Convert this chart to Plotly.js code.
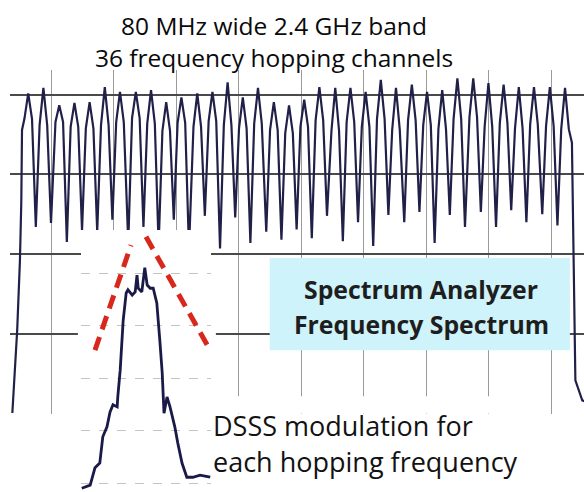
<!DOCTYPE html>
<html>
<head>
<meta charset="utf-8">
<script src="https://cdn.plot.ly/plotly-3.0.1.min.js"></script>
<style>
  html, body { margin: 0; padding: 0; background: #ffffff; }
  #chart { width: 584px; height: 492px; }
</style>
</head>
<body>
<div id="chart"></div>
<script>
// ---------- DATA ----------
// Main spectrum-analyzer sweep: 36 hopping channels across the 2.4 GHz band (MHz / dBm)
const channelFreq = [2401.1, 2403.3, 2405.6, 2407.8, 2410.0, 2412.2, 2414.4, 2416.7, 2418.9, 2421.1,
                     2423.3, 2425.6, 2427.8, 2430.0, 2432.2, 2434.4, 2436.7, 2438.9, 2441.1, 2443.3,
                     2445.6, 2447.8, 2450.0, 2452.2, 2454.4, 2456.7, 2458.9, 2461.1, 2463.3, 2465.6,
                     2467.8, 2470.0, 2472.2, 2474.4, 2476.7, 2478.9];
const channelTipDb = [-19.8, -19.1, -21.3, -21.0, -20.9, -19.0, -19.6, -19.6, -19.4, -20.9,
                      -20.3, -19.8, -19.6, -18.4, -20.3, -19.1, -20.9, -21.3, -20.6, -19.0,
                      -19.1, -19.1, -19.6, -18.1, -19.1, -18.7, -19.6, -19.4, -17.9, -17.9,
                      -18.5, -18.7, -19.0, -19.0, -19.0, -19.1];
const channelShoulderDb = [-23.0, -23.8, -23.4, -24.0, -24.2, -23.8, -23.4, -22.9, -23.6, -24.5,
                           -23.5, -24.0, -23.3, -23.8, -24.2, -23.6, -24.4, -24.8, -24.0, -23.2,
                           -24.5, -23.4, -24.0, -23.0, -24.4, -23.2, -23.8, -24.3, -23.0, -22.8,
                           -24.0, -23.5, -24.2, -23.7, -23.9, -24.3];
const dipFreq = [2402.2, 2404.4, 2406.7, 2408.9, 2411.1, 2413.3, 2415.6, 2417.8, 2420.0, 2422.2,
                 2424.4, 2426.7, 2428.9, 2431.1, 2433.3, 2435.6, 2437.8, 2440.0, 2442.2, 2444.4,
                 2446.7, 2448.9, 2451.1, 2453.3, 2455.6, 2457.8, 2460.0, 2462.2, 2464.4, 2466.7,
                 2468.9, 2471.1, 2473.3, 2475.6, 2477.8];
const dipDb = [-36.6, -36.1, -38.5, -37.0, -37.2, -35.7, -38.6, -36.6, -39.0, -35.7,
               -39.4, -35.2, -39.3, -35.4, -38.6, -37.2, -38.2, -36.9, -38.0, -35.2,
               -38.4, -36.0, -39.0, -35.1, -36.0, -34.7, -38.6, -35.1, -36.6, -34.7,
               -36.6, -34.5, -36.0, -35.0, -36.4];
// band edges of the sweep
const leftEdgeFreq = [2398.8, 2399.5, 2399.9, 2400.1, 2400.2];
const leftEdgeDb = [-60.0, -49.6, -40.8, -33.3, -24.4];
const rightEdgeFreq = [2479.9, 2480.1, 2480.4, 2481.4, 2481.7];
const rightEdgeDb = [-26.0, -38.2, -55.9, -58.4, -58.5];

// DSSS modulation of one hopping frequency (offset MHz / relative dB)
const dsssOffset = [-10.7, -9.3, -8.5, -7.7, -7.2, -6.5, -6.0, -5.5, -4.8, -4.7, -4.3, -4.0, -3.8,
                    -3.3, -3.0, -2.3, -1.8, -1.5, -1.3, -0.7, -0.2, 0.2, 0.7, 1.2, 1.8, 2.3, 2.7,
                    3.0, 3.5, 4.0, 4.8, 5.3, 6.0, 6.8, 7.8, 9.0, 10.7];
const dsssDb = [-41.0, -40.4, -37.1, -36.2, -31.2, -29.3, -26.5, -25.1, -25.5, -23.6, -18.5, -12.8, -9.0,
                -3.8, -3.2, -4.2, -3.6, -0.4, -2.9, -3.6, 1.0, -2.3, -2.9, -2.9, -5.7, -12.8, -19.0,
                -26.7, -23.6, -25.5, -29.3, -32.4, -36.2, -38.9, -38.9, -38.5, -38.9];
// red dashed envelope drawn over the DSSS shape
const envelopeOffset = [-8.5, -2.5, null, 0.0, 10.7];
const envelopeDb = [-14.7, 5.3, null, 6.9, -14.7];

// texts
const titleLines = ['80 MHz wide 2.4 GHz band', '36 frequency hopping channels'];
const boxLines = ['Spectrum Analyzer', 'Frequency Spectrum'];
const dsssLines = ['DSSS modulation for', 'each hopping frequency'];

// ---------- build the sweep polyline from the read values ----------
const sweepX = leftEdgeFreq.slice();
const sweepY = leftEdgeDb.slice();
const SHOULDER = 0.55; // MHz half-width of each channel's top
for (let k = 0; k < channelFreq.length; k++) {
  sweepX.push(channelFreq[k] - SHOULDER, channelFreq[k], channelFreq[k] + SHOULDER);
  sweepY.push(channelShoulderDb[k], channelTipDb[k], channelShoulderDb[k]);
  if (k < dipFreq.length) { sweepX.push(dipFreq[k]); sweepY.push(dipDb[k]); }
}
rightEdgeFreq.forEach((f, i) => { sweepX.push(f); sweepY.push(rightEdgeDb[i]); });

const FONT = '"Open Sans", Lato, sans-serif';

const traces = [
  { x: sweepX, y: sweepY, type: 'scatter', mode: 'lines', xaxis: 'x', yaxis: 'y',
    line: { color: '#202048', width: 2.2 }, hoverinfo: 'skip' },
  { x: dsssOffset, y: dsssDb, type: 'scatter', mode: 'lines', xaxis: 'x2', yaxis: 'y2',
    line: { color: '#1a1a48', width: 2.8 }, hoverinfo: 'skip' },
  { x: envelopeOffset, y: envelopeDb, type: 'scatter', mode: 'lines', xaxis: 'x2', yaxis: 'y2',
    connectgaps: false, line: { color: '#d8281e', width: 5, dash: '14px,8px' }, hoverinfo: 'skip' }
];

const layout = {
  width: 584, height: 492,
  margin: { l: 0, r: 0, t: 0, b: 0, pad: 0 },
  showlegend: false,
  hovermode: false,
  title: {
    text: titleLines.join('<br>'),
    font: { family: FONT, size: 24.5, color: '#0a0a0a' },
    x: 274 / 584, xanchor: 'center', xref: 'paper',
    y: 1 - 35 / 492, yanchor: 'top', yref: 'container'
  },
  xaxis: {
    domain: [10 / 584, 1], range: [2398.46, 2481.65],
    tick0: 2404.41, dtick: 9.058, showgrid: true, gridcolor: '#9a9a9a', gridwidth: 1,
    showticklabels: false, ticks: '', zeroline: false, showline: false, fixedrange: true
  },
  yaxis: {
    domain: [1 - 413.5 / 492, 1 - 70 / 492], range: [-60.06, -16.86],
    tick0: -60, dtick: 10, showgrid: true, gridcolor: '#4a4a4a', gridwidth: 2,
    showticklabels: false, ticks: '', zeroline: false, showline: false, fixedrange: true
  },
  xaxis2: {
    domain: [81 / 584, 211 / 584], range: [-10.83, 10.83], anchor: 'y2',
    showgrid: false, showticklabels: false, ticks: '', zeroline: false, showline: false, fixedrange: true
  },
  yaxis2: {
    domain: [1 - 490 / 492, 1 - 230 / 492], range: [-41.33, 8.19], anchor: 'x2',
    tick0: 0, dtick: 10, showgrid: true, gridcolor: '#c4c4c4', gridwidth: 1, griddash: 'dash',
    showticklabels: false, ticks: '', zeroline: false, showline: false, fixedrange: true
  },
  shapes: [
    // white area behind the DSSS inset
    { type: 'rect', xref: 'x', yref: 'y', layer: 'between', x0: 2408.3, x1: 2428.3, y0: -75, y1: -40.15,
      fillcolor: '#ffffff', line: { width: 0 } },
    // white area behind the DSSS caption
    { type: 'rect', xref: 'x', yref: 'y', layer: 'between', x0: 2408.3, x1: 2475.7, y0: -75, y1: -57.9,
      fillcolor: '#ffffff', line: { width: 0 } },
    // light-blue caption box
    { type: 'rect', xref: 'x', yref: 'y', layer: 'between', x0: 2436.1, x1: 2479.6, y0: -52.1, y1: -40.5,
      fillcolor: '#cff3fa', line: { width: 0 } }
  ],
  annotations: [
    { text: boxLines[0], xref: 'paper', yref: 'paper', x: 421 / 584, y: 1 - 289 / 492,
      xanchor: 'center', yanchor: 'middle', showarrow: false,
      font: { family: FONT, size: 24.8, color: '#1e1e1e', weight: 'bold' } },
    { text: boxLines[1], xref: 'paper', yref: 'paper', x: 421 / 584, y: 1 - 324 / 492,
      xanchor: 'center', yanchor: 'middle', showarrow: false,
      font: { family: FONT, size: 24.8, color: '#1e1e1e', weight: 'bold' } },
    { text: dsssLines[0], xref: 'paper', yref: 'paper', x: 211 / 584, y: 1 - 425 / 492,
      xanchor: 'left', yanchor: 'middle', showarrow: false,
      font: { family: FONT, size: 27, color: '#121212' } },
    { text: dsssLines[1], xref: 'paper', yref: 'paper', x: 211 / 584, y: 1 - 461 / 492,
      xanchor: 'left', yanchor: 'middle', showarrow: false,
      font: { family: FONT, size: 27, color: '#121212' } }
  ]
};

Plotly.newPlot('chart', traces, layout, { displayModeBar: false, staticPlot: true });
</script>
</body>
</html>
